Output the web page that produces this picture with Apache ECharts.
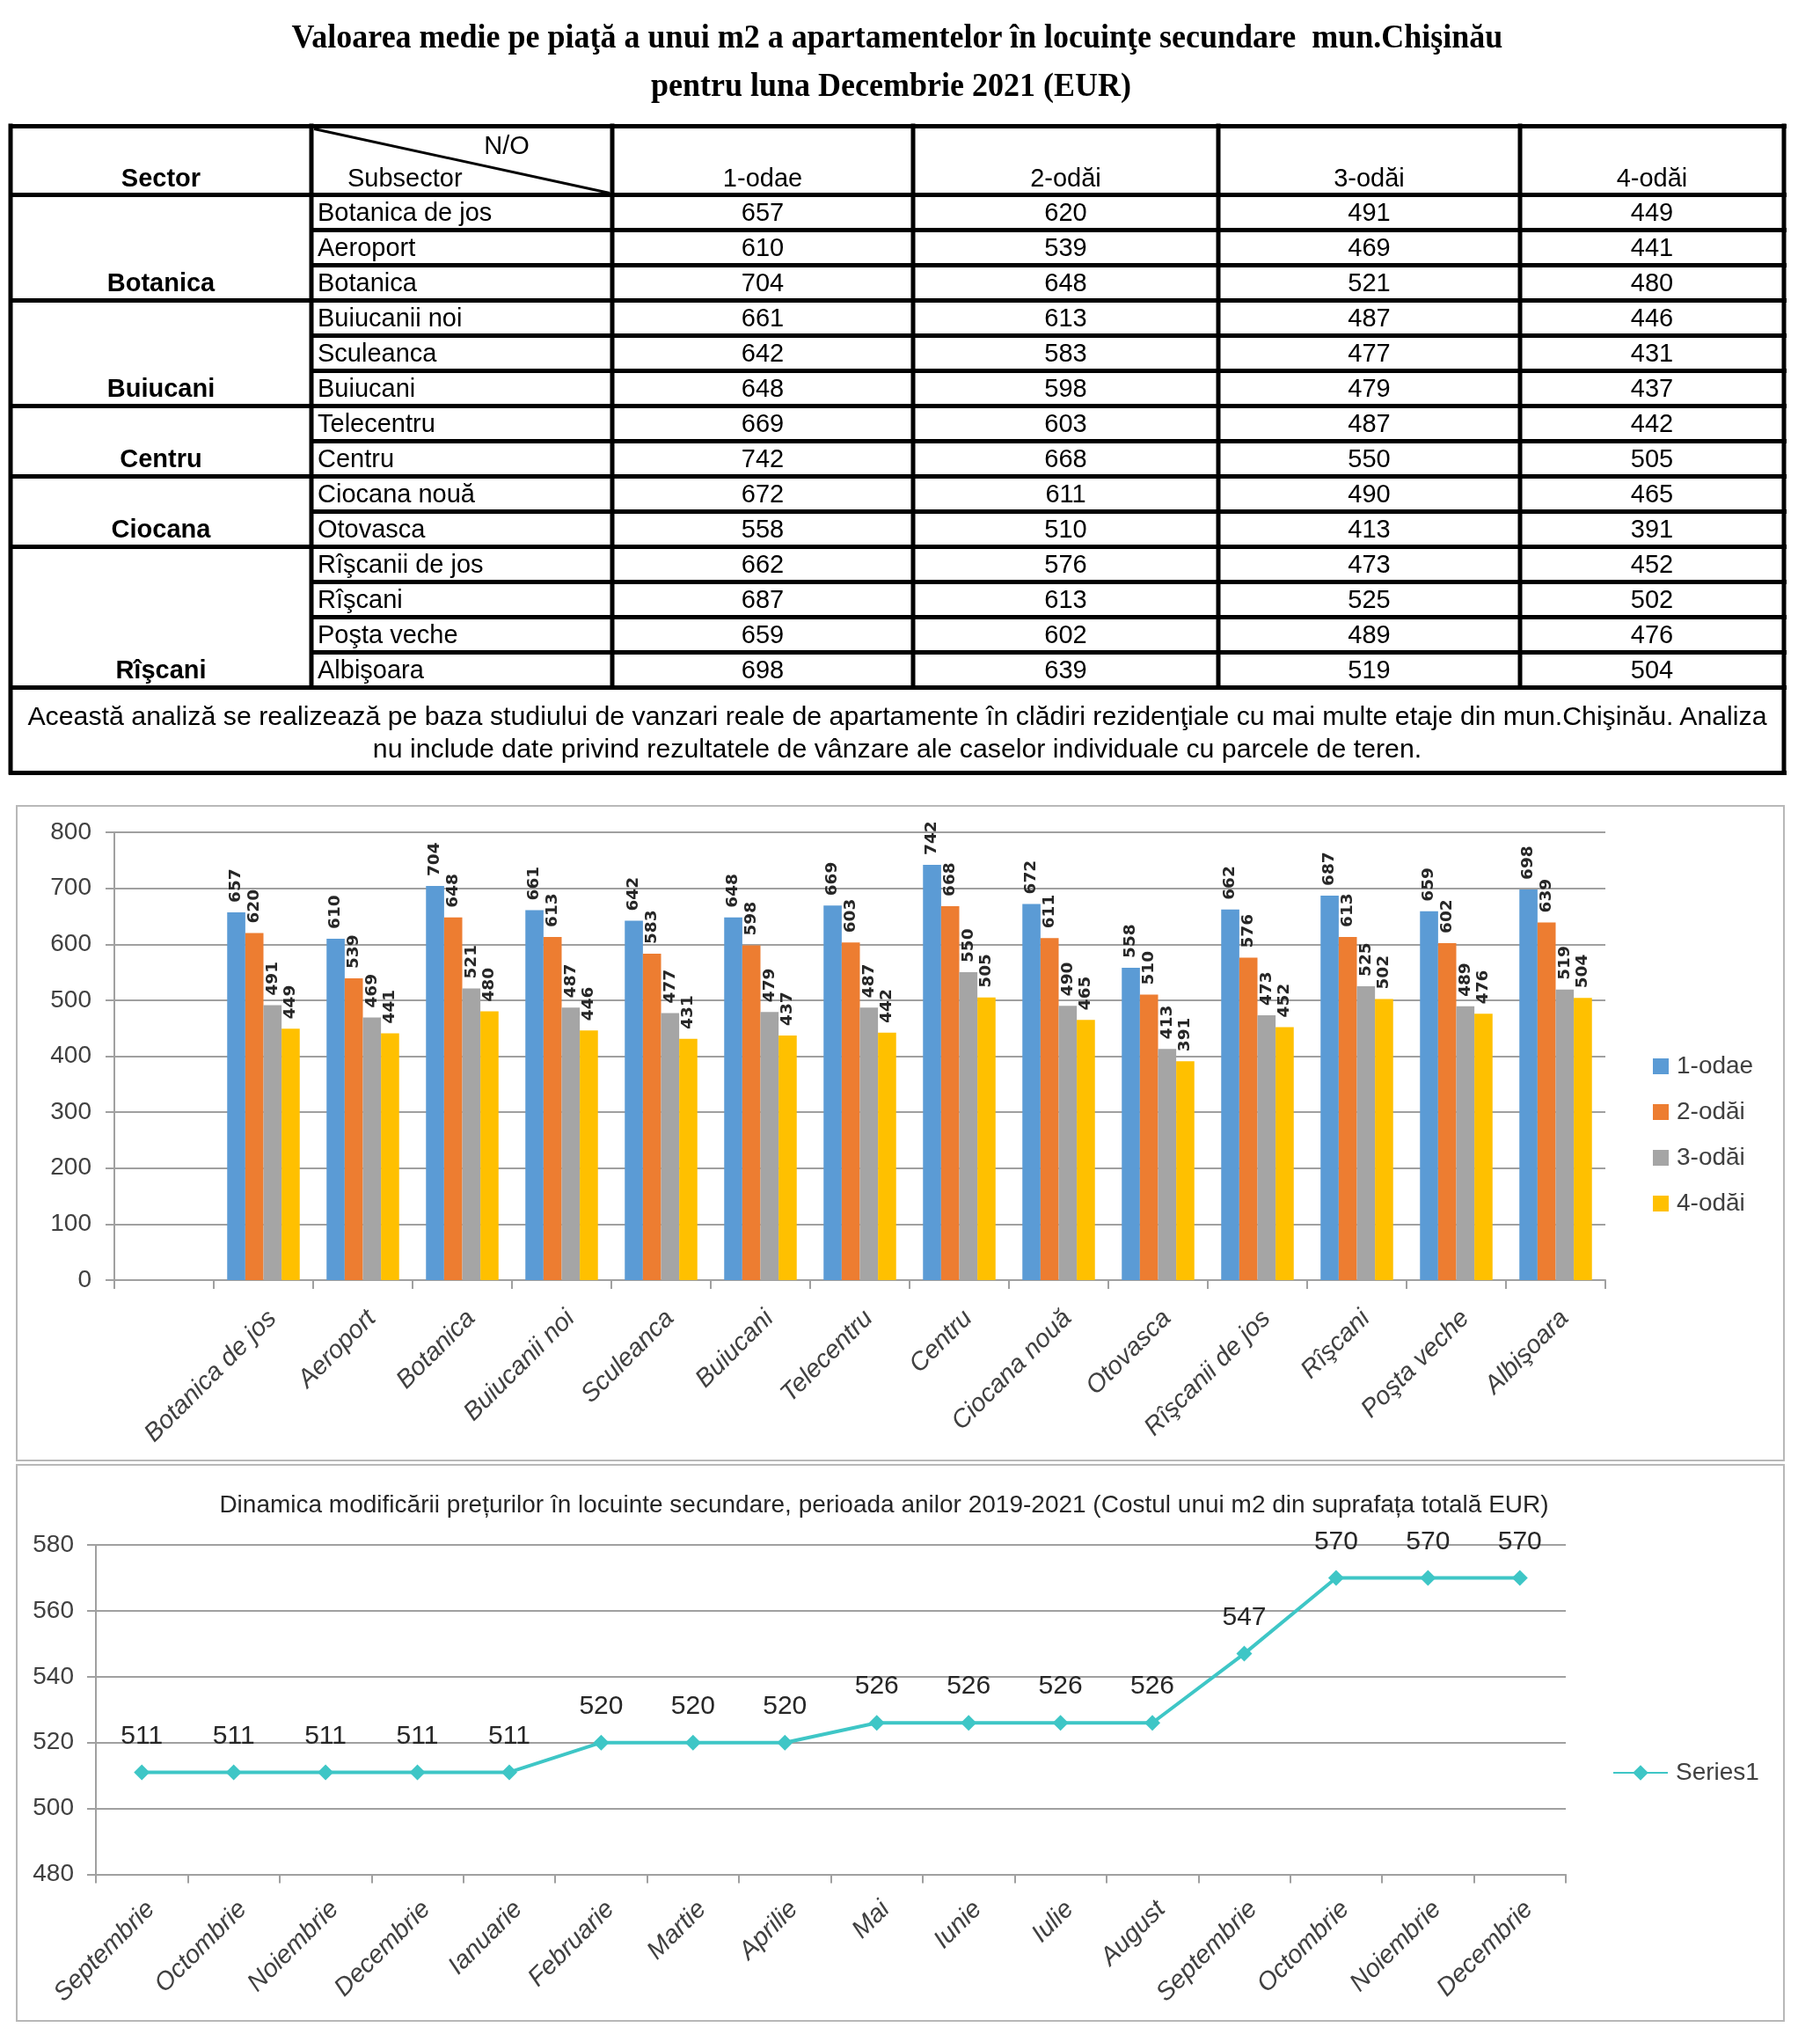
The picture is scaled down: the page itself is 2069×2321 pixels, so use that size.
<!DOCTYPE html>
<html><head><meta charset="utf-8">
<script src="https://cdn.jsdelivr.net/npm/echarts@6/dist/echarts.min.js"></script>
<style>
html,body{margin:0;padding:0;background:#fff;}
#page{position:relative;width:2069px;height:2321px;overflow:hidden;background:#fff;}
#chart{position:absolute;left:0;top:0;width:2069px;height:2321px;}
#tbl{position:absolute;left:0;top:0;width:2069px;height:900px;font-family:'Liberation Sans',Arial,sans-serif;color:#000;}
.t{position:absolute;white-space:pre;line-height:1.15;}
.ln{position:absolute;background:#000;}
</style></head>
<body><div id="page"><div id="chart"></div><div id="tbl"></div></div>
<script>
// ---------- data ----------
const titleLines = [
  'Valoarea medie pe piaţă a unui m2 a apartamentelor în locuinţe secundare  mun.Chişinău',
  'pentru luna Decembrie 2021 (EUR)'
];
const headerSector = 'Sector';
const headerNO = 'N/O';
const headerSubsector = 'Subsector';
const sectors = ['Botanica', 'Buiucani', 'Centru', 'Ciocana', 'Rîşcani'];
const sectorSizes = [3, 3, 2, 2, 4];
const subsectors = ['Botanica de jos', 'Aeroport', 'Botanica', 'Buiucanii noi', 'Sculeanca', 'Buiucani',
  'Telecentru', 'Centru', 'Ciocana nouă', 'Otovasca', 'Rîşcanii de jos', 'Rîşcani', 'Poşta veche', 'Albişoara'];
const roomTypes = ['1-odae', '2-odăi', '3-odăi', '4-odăi'];
const odae1 = [657, 610, 704, 661, 642, 648, 669, 742, 672, 558, 662, 687, 659, 698];
const odai2 = [620, 539, 648, 613, 583, 598, 603, 668, 611, 510, 576, 613, 602, 639];
const odai3 = [491, 469, 521, 487, 477, 479, 487, 550, 490, 413, 473, 525, 489, 519];
const odai4 = [449, 441, 480, 446, 431, 437, 442, 505, 465, 391, 452, 502, 476, 504];
const footnoteLines = [
  'Această analiză se realizează pe baza studiului de vanzari reale de apartamente în clădiri rezidenţiale cu mai multe etaje din mun.Chişinău. Analiza',
  'nu include date privind rezultatele de vânzare ale caselor individuale cu parcele de teren.'
];
const barCategories = [''].concat(subsectors);
const lineTitle = 'Dinamica modificării prețurilor în locuinte secundare, perioada anilor 2019-2021 (Costul unui m2 din suprafața totală EUR)';
const months = ['Septembrie', 'Octombrie', 'Noiembrie', 'Decembrie', 'Ianuarie', 'Februarie', 'Martie', 'Aprilie',
  'Mai', 'Iunie', 'Iulie', 'August', 'Septembrie', 'Octombrie', 'Noiembrie', 'Decembrie'];
const priceDynamics = [511, 511, 511, 511, 511, 520, 520, 520, 526, 526, 526, 526, 547, 570, 570, 570];
const lineSeriesName = 'Series1';

// ---------- table (HTML) ----------
const tbl = document.getElementById('tbl');
function txt(s, x, y, o) {
  o = o || {};
  const d = document.createElement('div');
  d.className = 't';
  d.textContent = s;
  d.style.left = x + 'px';
  d.style.top = y + 'px';
  d.style.fontSize = (o.size || 29) + 'px';
  if (o.bold) d.style.fontWeight = 'bold';
  if (o.family) d.style.fontFamily = o.family;
  const tx = o.align === 'left' ? '0' : '-50%';
  d.style.transform = 'translate(' + tx + ',-50%)' + (o.sy ? ' scaleY(' + o.sy + ')' : '');
  tbl.appendChild(d);
}
function line(x1, y1, x2, y2, w) {
  const d = document.createElement('div');
  d.className = 'ln';
  const dx = x2 - x1, dy = y2 - y1;
  d.style.left = x1 + 'px';
  d.style.top = (y1 - w / 2) + 'px';
  d.style.width = Math.hypot(dx, dy) + 'px';
  d.style.height = w + 'px';
  d.style.transformOrigin = '0 50%';
  d.style.transform = 'rotate(' + Math.atan2(dy, dx) + 'rad)';
  tbl.appendChild(d);
}
const serif = "'Liberation Serif','Times New Roman',serif";
txt(titleLines[0], 1020, 42, {size: 36, bold: true, family: serif, sy: 1.08});
txt(titleLines[1], 1013, 97, {size: 36, bold: true, family: serif, sy: 1.08});

const colX = [12, 354, 696, 1038, 1385, 1728, 2028];
const tTop = 143, hBot = 221, rowH = 40, nRows = subsectors.length;
const dBot = hBot + nRows * rowH, fBot = 878;
const W = 5;
line(colX[0] - W / 2, tTop, colX[6] + W / 2, tTop, W);
line(colX[0] - W / 2, hBot, colX[6] + W / 2, hBot, W);
const bounds = [];
let acc = 0;
sectorSizes.forEach(n => { acc += n; bounds.push(acc); });
for (let k = 1; k <= nRows; k++) {
  const y = hBot + k * rowH;
  const x0 = bounds.includes(k) ? colX[0] : colX[1];
  line(x0 - W / 2, y, colX[6] + W / 2, y, W);
}
line(colX[0] - W / 2, fBot, colX[6] + W / 2, fBot, W);
line(colX[0], tTop - W / 2, colX[0], fBot + W / 2, W);
line(colX[6], tTop - W / 2, colX[6], fBot + W / 2, W);
for (let c = 1; c <= 5; c++) line(colX[c], tTop - W / 2, colX[c], dBot + W / 2, W);
line(colX[1] + 3, tTop + 3, colX[2] - 3, hBot - 2, 3);
txt(headerSector, (colX[0] + colX[1]) / 2, 203, {bold: true});
txt(headerNO, 576, 166);
txt(headerSubsector, 395, 203, {align: 'left'});
roomTypes.forEach((r, i) => txt(r, (colX[i + 2] + colX[i + 3]) / 2, 203));
const cols = [odae1, odai2, odai3, odai4];
subsectors.forEach((s, i) => {
  const cy = hBot + i * rowH + rowH / 2 + 1;
  txt(s, colX[1] + 7, cy, {align: 'left'});
  cols.forEach((arr, j) => txt(String(arr[i]), (colX[j + 2] + colX[j + 3]) / 2, cy));
});
sectors.forEach((s, i) => {
  const last = bounds[i] - 1;
  txt(s, (colX[0] + colX[1]) / 2, hBot + last * rowH + rowH / 2 + 1, {bold: true});
});
txt(footnoteLines[0], 1020, 814, {size: 30.3});
txt(footnoteLines[1], 1020, 851, {size: 30.3});

// ---------- charts (ECharts) ----------
const chart = echarts.init(document.getElementById('chart'), null, {renderer: 'canvas'});
const labCol = '#404040';
const gridCol = '#A0A0A0';
const barColors = ['#5B9BD5', '#ED7D31', '#A5A5A5', '#FFC000'];
const lineColor = '#3EC6C6';
const barSeriesData = [odae1, odai2, odai3, odai4];

const option = {
  animation: false,
  textStyle: {fontFamily: 'Liberation Sans'},
  graphic: [
    {type: 'rect', shape: {x: 19, y: 916, width: 2009, height: 744}, style: {fill: 'none', stroke: '#B8B8B8', lineWidth: 2}},
    {type: 'rect', shape: {x: 19, y: 1665, width: 2009, height: 632}, style: {fill: 'none', stroke: '#B8B8B8', lineWidth: 2}},
    {type: 'text', x: 1005, y: 1711, style: {text: lineTitle, align: 'center', verticalAlign: 'middle',
      font: '28px "Liberation Sans"', fill: '#262626'}}
  ],
  legend: [
    {data: roomTypes, orient: 'vertical', left: 1874, top: 1193, itemWidth: 18, itemHeight: 18, itemGap: 24,
      icon: 'rect', textStyle: {fontSize: 28, lineHeight: 28, color: labCol, padding: [0, 0, 0, 4]}},
    {data: [lineSeriesName], left: 1828, top: 1996, itemWidth: 62, itemHeight: 22,
      textStyle: {fontSize: 28, lineHeight: 28, color: labCol, padding: [0, 0, 0, 4]}}
  ],
  grid: [
    {left: 130, top: 946, width: 1695, height: 509},
    {left: 109, top: 1756, width: 1671, height: 374.5}
  ],
  xAxis: [
    {type: 'category', gridIndex: 0, data: barCategories,
      axisLine: {lineStyle: {color: gridCol, width: 2}},
      axisTick: {show: true, length: 10, lineStyle: {color: gridCol, width: 2}},
      axisLabel: {interval: 0, rotate: 45, fontStyle: 'italic', fontSize: 29, margin: 29, verticalAlign: 'top', color: labCol}},
    {type: 'category', gridIndex: 1, data: months,
      axisLine: {lineStyle: {color: gridCol, width: 2}},
      axisTick: {show: true, length: 10, lineStyle: {color: gridCol, width: 2}},
      axisLabel: {interval: 0, rotate: 45, fontStyle: 'italic', fontSize: 29, margin: 25, verticalAlign: 'top', color: labCol}}
  ],
  yAxis: [
    {type: 'value', gridIndex: 0, min: 0, max: 800, interval: 100,
      axisLine: {show: true, lineStyle: {color: gridCol, width: 2}},
      axisTick: {show: true, length: 10, lineStyle: {color: gridCol, width: 2}},
      splitLine: {lineStyle: {color: gridCol, width: 2}},
      axisLabel: {fontSize: 28, margin: 26, color: labCol}},
    {type: 'value', gridIndex: 1, min: 480, max: 580, interval: 20,
      axisLine: {show: true, lineStyle: {color: gridCol, width: 2}},
      axisTick: {show: true, length: 10, lineStyle: {color: gridCol, width: 2}},
      splitLine: {lineStyle: {color: gridCol, width: 2}},
      axisLabel: {fontSize: 28, margin: 25, color: labCol}}
  ],
  series: roomTypes.map((name, i) => ({
    type: 'bar', name: name, xAxisIndex: 0, yAxisIndex: 0,
    data: [null].concat(barSeriesData[i]),
    itemStyle: {color: barColors[i]},
    barGap: '0%', barCategoryGap: '27%',
    label: {show: true, position: 'top', rotate: 90, align: 'left', verticalAlign: 'middle', distance: 8,
      offset: [3, 0], fontSize: 18.5, fontWeight: 'bold', fontFamily: '"DejaVu Sans"', color: '#262626'}
  })).concat([{
    type: 'line', name: lineSeriesName, xAxisIndex: 1, yAxisIndex: 1,
    data: priceDynamics,
    itemStyle: {color: lineColor},
    lineStyle: {color: lineColor, width: 4},
    symbol: 'diamond', symbolSize: 18,
    label: {show: true, position: 'top', distance: 17, fontSize: 30, color: '#262626'}
  }])
};
chart.setOption(option);
</script>
</body></html>
